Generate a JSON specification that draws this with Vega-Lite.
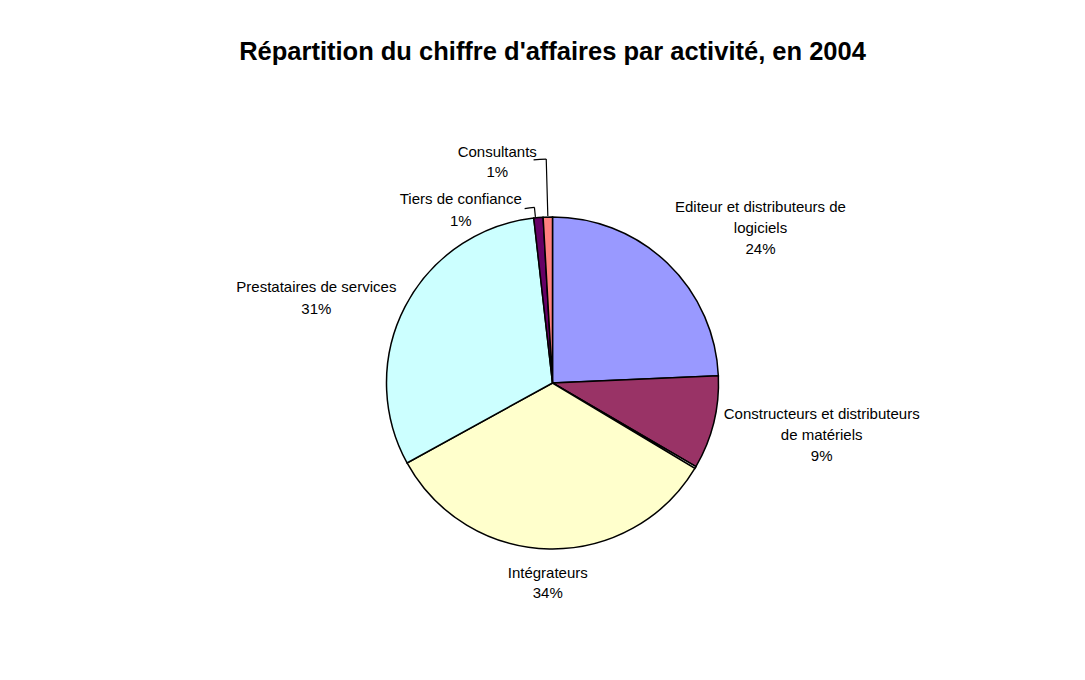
{
  "$schema": "https://vega.github.io/schema/vega-lite/v6.json",
  "width": 1065,
  "height": 594,
  "autosize": {"type": "none"},
  "padding": {"left": 20, "top": 86, "right": 0, "bottom": 0},
  "background": "white",
  "title": {
    "text": "Répartition du chiffre d'affaires par activité, en 2004",
    "font": "Liberation Sans",
    "fontSize": 25.5,
    "fontWeight": "bold",
    "color": "black",
    "anchor": "middle",
    "offset": 21
  },
  "config": {"view": {"stroke": null}},
  "data": {
    "values": [
      {"cat": "Editeur", "label": "Editeur et distributeurs de\nlogiciels\n24%", "value": 24.3, "order": 1},
      {"cat": "Constructeurs", "label": "Constructeurs et distributeurs\nde matériels\n9%", "value": 9.1, "order": 2},
      {"cat": "Autre", "label": "", "value": 0.2, "order": 3},
      {"cat": "Intégrateurs", "label": "Intégrateurs\n34%", "value": 33.4, "order": 4},
      {"cat": "Prestataires", "label": "Prestataires de services\n31%", "value": 31.2, "order": 5},
      {"cat": "Tiers", "label": "Tiers de confiance\n1%", "value": 0.9, "order": 6},
      {"cat": "Consultants", "label": "Consultants\n1%", "value": 0.9, "order": 7}
    ]
  },
  "encoding": {
    "theta": {"field": "value", "type": "quantitative", "stack": true},
    "order": {"field": "order", "type": "quantitative"},
    "detail": {"field": "cat", "type": "nominal"}
  },
  "layer": [
    {
      "mark": {"type": "arc", "outerRadius": 166, "stroke": "#000000", "strokeWidth": 1.5},
      "encoding": {
        "color": {
          "field": "cat",
          "type": "nominal",
          "legend": null,
          "scale": {
            "domain": ["Editeur", "Constructeurs", "Autre", "Intégrateurs", "Prestataires", "Tiers", "Consultants"],
            "range": ["#9999FF", "#993366", "#FFFFFF", "#FFFFCC", "#CCFFFF", "#660066", "#FF8080"]
          }
        }
      }
    },
    {
      "transform": [
        {"stack": "value", "groupby": [], "sort": [{"field": "order", "order": "ascending"}], "as": ["v0", "v1"]},
        {"filter": "datum.cat === 'Consultants'"}
      ],
      "mark": {"type": "arc", "innerRadius": 167, "outerRadius": 224, "thetaOffset": -0.028, "theta2Offset": -0.028, "fillOpacity": 0, "stroke": "#000000", "strokeWidth": 1.2},
      "encoding": {
        "theta": {"field": "v1", "type": "quantitative", "stack": null},
        "theta2": {"field": "v1"}
      }
    },
    {
      "transform": [
        {"stack": "value", "groupby": [], "sort": [{"field": "order", "order": "ascending"}], "as": ["v0", "v1"]},
        {"filter": "datum.cat === 'Consultants'"}
      ],
      "mark": {"type": "arc", "innerRadius": 224, "outerRadius": 224, "thetaOffset": -0.028, "theta2Offset": -0.028, "fillOpacity": 0, "stroke": "#000000", "strokeWidth": 1.2},
      "encoding": {
        "theta": {"field": "v0", "type": "quantitative", "stack": null},
        "theta2": {"field": "v1"}
      }
    },
    {
      "transform": [
        {"stack": "value", "groupby": [], "sort": [{"field": "order", "order": "ascending"}], "as": ["v0", "v1"]},
        {"filter": "datum.cat === 'Tiers'"}
      ],
      "mark": {"type": "arc", "innerRadius": 167, "outerRadius": 176.5, "thetaOffset": 0.0105, "theta2Offset": 0.0105, "fillOpacity": 0, "stroke": "#000000", "strokeWidth": 1.2},
      "encoding": {
        "theta": {"field": "v0", "type": "quantitative", "stack": null},
        "theta2": {"field": "v0"}
      }
    },
    {
      "transform": [
        {"stack": "value", "groupby": [], "sort": [{"field": "order", "order": "ascending"}], "as": ["v0", "v1"]},
        {"filter": "datum.cat === 'Tiers'"}
      ],
      "mark": {"type": "arc", "innerRadius": 176.5, "outerRadius": 176.5, "thetaOffset": -0.0454, "theta2Offset": -0.0454, "fillOpacity": 0, "stroke": "#000000", "strokeWidth": 1.2},
      "encoding": {
        "theta": {"field": "v0", "type": "quantitative", "stack": null},
        "theta2": {"field": "v1"}
      }
    },
    {
      "mark": {"type": "text", "radius": 256, "dx": 31, "dy": 9, "font": "Liberation Sans", "fontSize": 15, "lineBreak": "\n", "lineHeight": 21, "align": "center", "baseline": "middle", "fill": "#000000"},
      "encoding": {
        "text": {"field": "label"},
        "opacity": {"condition": {"test": "datum.cat === 'Editeur'", "value": 1}, "value": 0}
      }
    },
    {
      "mark": {"type": "text", "radius": 131, "dx": 142, "dy": 0, "font": "Liberation Sans", "fontSize": 15, "lineBreak": "\n", "lineHeight": 21, "align": "center", "baseline": "middle", "fill": "#000000"},
      "encoding": {
        "text": {"field": "label"},
        "opacity": {"condition": {"test": "datum.cat === 'Constructeurs'", "value": 1}, "value": 0}
      }
    },
    {
      "mark": {"type": "text", "radius": 200, "dx": -1, "dy": -10, "font": "Liberation Sans", "fontSize": 15, "lineBreak": "\n", "lineHeight": 20, "align": "center", "baseline": "middle", "fill": "#000000"},
      "encoding": {
        "text": {"field": "label"},
        "opacity": {"condition": {"test": "datum.cat === 'Intégrateurs'", "value": 1}, "value": 0}
      }
    },
    {
      "mark": {"type": "text", "radius": 249, "dx": -15, "dy": 18, "font": "Liberation Sans", "fontSize": 15, "lineBreak": "\n", "lineHeight": 22, "align": "center", "baseline": "middle", "fill": "#000000"},
      "encoding": {
        "text": {"field": "label"},
        "opacity": {"condition": {"test": "datum.cat === 'Prestataires'", "value": 1}, "value": 0}
      }
    },
    {
      "mark": {"type": "text", "radius": 174, "dx": -77, "dy": -11, "font": "Liberation Sans", "fontSize": 15, "lineBreak": "\n", "lineHeight": 22, "align": "center", "baseline": "middle", "fill": "#000000"},
      "encoding": {
        "text": {"field": "label"},
        "opacity": {"condition": {"test": "datum.cat === 'Tiers'", "value": 1}, "value": 0}
      }
    },
    {
      "mark": {"type": "text", "radius": 221, "dx": -49, "dy": -10, "font": "Liberation Sans", "fontSize": 15, "lineBreak": "\n", "lineHeight": 20, "align": "center", "baseline": "middle", "fill": "#000000"},
      "encoding": {
        "text": {"field": "label"},
        "opacity": {"condition": {"test": "datum.cat === 'Consultants'", "value": 1}, "value": 0}
      }
    }
  ]
}
